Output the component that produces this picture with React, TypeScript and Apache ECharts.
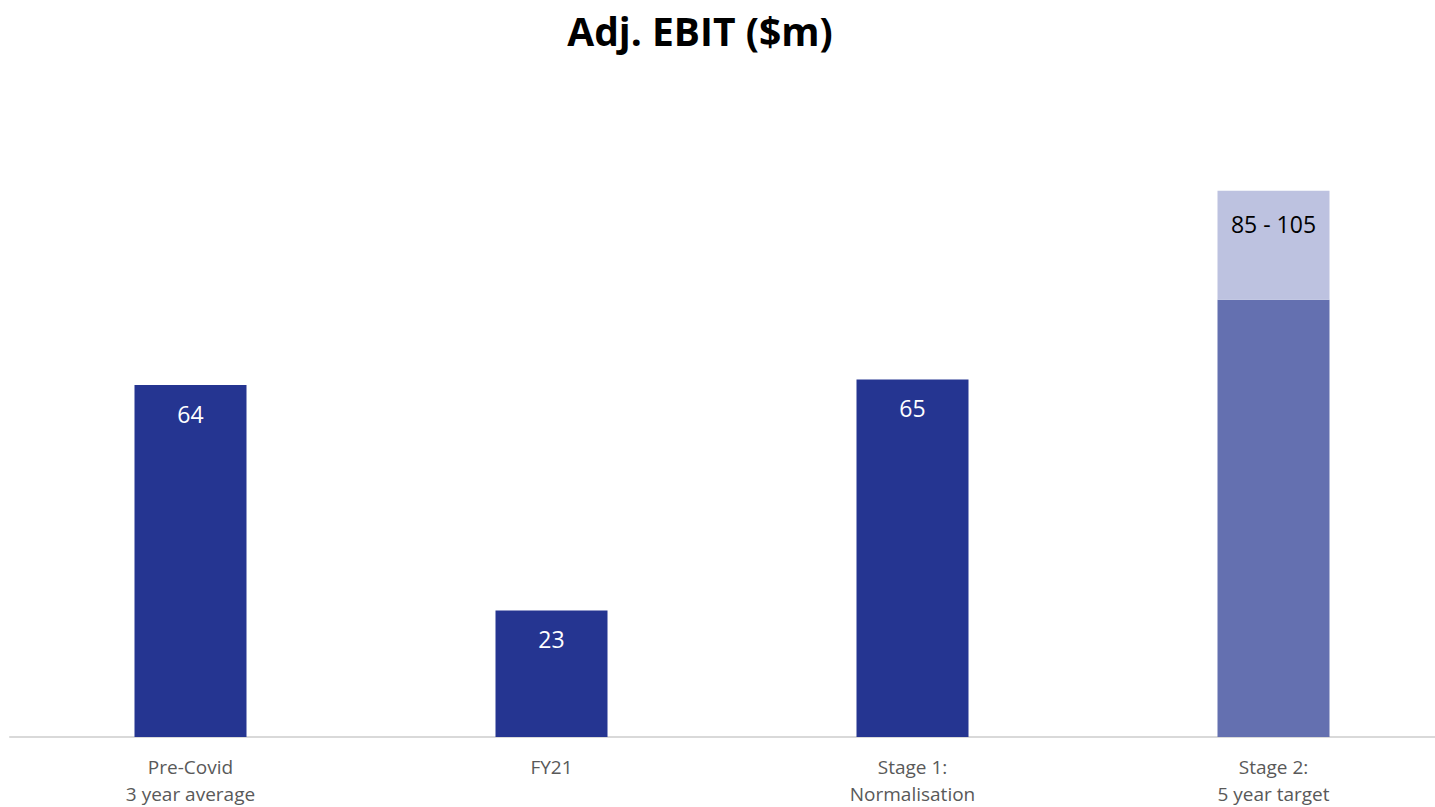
import React, { useEffect, useRef } from "react";
import * as echarts from "echarts";

const categories = ["Pre-Covid\n3 year average", "FY21", "Stage 1:\nNormalisation", "Stage 2:\n5 year target"];
const baseValues = [64, 23, 65, 79.5];
const rangeValues = [0, 0, 0, 19.8];
const baseLabels = ["64", "23", "65", ""];
const rangeLabels = ["", "", "", "85 - 105"];

const DARK = "#253591";
const MID = "#6470B0";
const LIGHT = "#BDC2E0";

export default function App() {
  const ref = useRef<HTMLDivElement>(null);
  useEffect(() => {
    const chart = echarts.init(ref.current!, undefined, { renderer: "svg" });
    chart.setOption({
      animation: false,
      title: {
        text: "Adj. EBIT ($m)",
        left: 695,
        textAlign: "center",
        top: 6,
        textStyle: { fontSize: 39, fontWeight: "bold", color: "#000", fontFamily: "Open Sans" },
      },
      grid: { left: 10, width: 1444, top: 77, bottom: 66, containLabel: false },
      xAxis: {
        type: "category",
        data: categories,
        axisLine: { lineStyle: { color: "#D9D9D9", width: 2 } },
        axisTick: { show: false },
        axisLabel: { color: "#595959", fontSize: 19, lineHeight: 27, margin: 16, fontFamily: "Open Sans" },
      },
      yAxis: { type: "value", min: 0, max: 120, show: false, splitLine: { show: false } },
      series: [
        {
          type: "bar",
          stack: "s",
          barWidth: 112,
          data: baseValues.map((v, i) => ({
            value: v,
            itemStyle: { color: i === 3 ? MID : DARK },
          })),
          label: {
            show: true,
            position: "insideTop",
            distance: 17,
            color: "#fff",
            fontSize: 23,
            fontFamily: "Open Sans",
            formatter: (p: any) => baseLabels[p.dataIndex],
          },
        },
        {
          type: "bar",
          stack: "s",
          barWidth: 112,
          data: rangeValues.map((v) => ({ value: v, itemStyle: { color: LIGHT } })),
          label: {
            show: true,
            position: "insideTop",
            distance: 22,
            color: "#000",
            fontSize: 23,
            fontFamily: "Open Sans",
            formatter: (p: any) => rangeLabels[p.dataIndex],
          },
        },
      ],
    });
    return () => chart.dispose();
  }, []);
  return (
    <div style={{ position: "absolute", left: 0, top: 0, width: 1435, height: 807, overflow: "hidden" }}>
      <div ref={ref} style={{ width: 1460, height: 807 }} />
    </div>
  );
}
